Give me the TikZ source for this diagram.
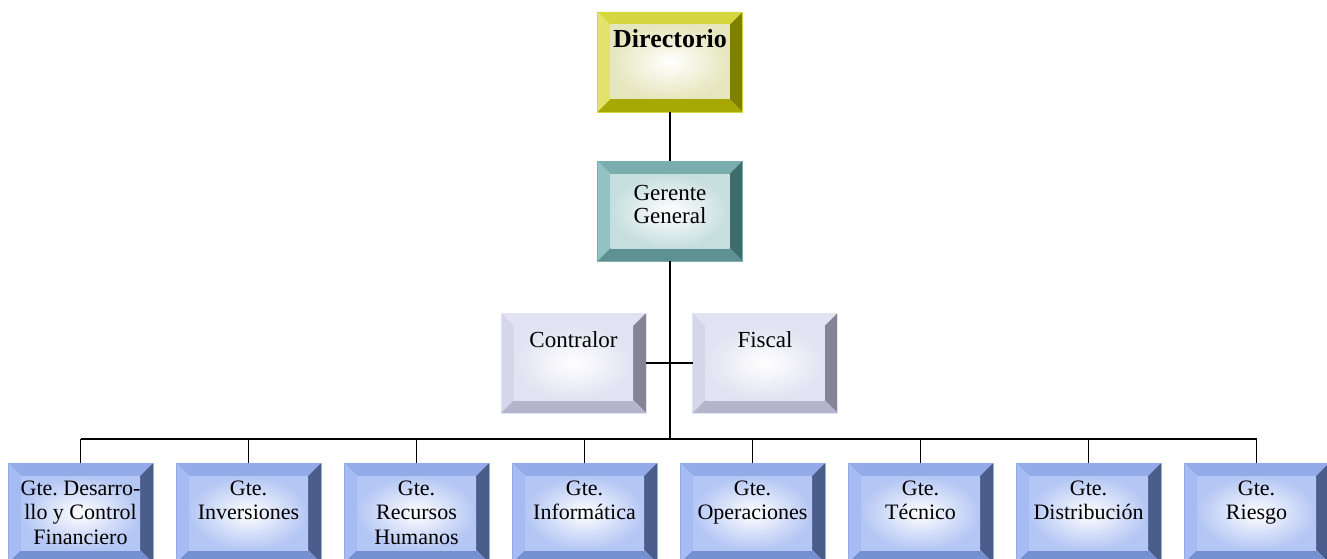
\documentclass[tikz,border=0pt]{standalone}
\usepackage{fontspec}
\setmainfont{Liberation Serif}
\usetikzlibrary{calc}
\frenchspacing

% bevel colours: top, left, right, bottom, inner tint
\definecolor{dirTop}{HTML}{D6D63E}
\definecolor{dirLeft}{HTML}{E2E26C}
\definecolor{dirRight}{HTML}{7F7F00}
\definecolor{dirBot}{HTML}{A8A802}
\definecolor{dirTint}{HTML}{E6E6BE}
\definecolor{gerTop}{HTML}{7AAEAE}
\definecolor{gerLeft}{HTML}{92C2C2}
\definecolor{gerRight}{HTML}{3E6C6C}
\definecolor{gerBot}{HTML}{5E9292}
\definecolor{gerTint}{HTML}{C6DEDE}
\definecolor{conTop}{HTML}{E2E2F2}
\definecolor{conLeft}{HTML}{D6D6EA}
\definecolor{conRight}{HTML}{848496}
\definecolor{conBot}{HTML}{B4B4CA}
\definecolor{conTint}{HTML}{E2E2F2}
\definecolor{gteTop}{HTML}{94ABEA}
\definecolor{gteLeft}{HTML}{A6BBF2}
\definecolor{gteRight}{HTML}{4C5C8C}
\definecolor{gteBot}{HTML}{7490D0}
\definecolor{gteTint}{HTML}{B4C6F4}

\newcommand\orgtext[2]{\parbox[c][100pt][t]{145pt}{\centering\rule{0pt}{#1}#2}}

\begin{document}
\begin{tikzpicture}[x=1pt, y=-1pt,
  bevel/.style n args={5}{rectangle, inner sep=0pt, outer sep=0pt,
    minimum width=145pt, minimum height=100pt, draw=#1, line width=0.5pt,
    path picture={
      \path (path picture bounding box.north west) coordinate (pnw)
            (path picture bounding box.south east) coordinate (pse);
      \fill[#1] (pnw) -- (pnw -| pse) -- ($(pnw -| pse)+(-13pt,-13pt)$)
        -- ($(pnw)+(13pt,-13pt)$) -- cycle;
      \fill[#2] (pnw) -- ($(pnw)+(13pt,-13pt)$) -- ($(pnw |- pse)+(13pt,13pt)$)
        -- (pnw |- pse) -- cycle;
      \fill[#3] (pnw -| pse) -- (pse) -- ($(pse)+(-13pt,13pt)$)
        -- ($(pnw -| pse)+(-13pt,-13pt)$) -- cycle;
      \fill[#4] (pnw |- pse) -- (pse) -- ($(pse)+(-13pt,13pt)$)
        -- ($(pnw |- pse)+(13pt,13pt)$) -- cycle;
      \shade[inner color=white, outer color=#5]
        ($(pnw)+(13pt,-13pt)$) rectangle ($(pse)+(-13pt,13pt)$);
    }},
  dirbox/.style={bevel={dirTop}{dirLeft}{dirRight}{dirBot}{dirTint},
    font=\fontsize{26}{30}\selectfont\bfseries},
  gerbox/.style={bevel={gerTop}{gerLeft}{gerRight}{gerBot}{gerTint},
    font=\fontsize{23}{23}\selectfont},
  conbox/.style={bevel={conTop}{conLeft}{conRight}{conBot}{conTint},
    font=\fontsize{23}{24}\selectfont},
  gtebox/.style={bevel={gteTop}{gteLeft}{gteRight}{gteBot}{gteTint},
    font=\fontsize{22}{24.5}\selectfont},
  link/.style={line width=1.6pt}]

  \useasboundingbox (0,0) rectangle (1327,559);
  \clip (0,0) rectangle (1327,559);

  \node[dirbox] (dir) at (670,62) {\orgtext{36pt}{Directorio}};
  \node[gerbox] (ger) at (670,211) {\orgtext{39pt}{Gerente\\General}};
  \node[conbox] (con) at (573.5,363) {\orgtext{34pt}{Contralor}};
  \node[conbox] (fis) at (765,363) {\orgtext{34pt}{Fiscal}};
  \coordinate (bus) at (670,439);

  \foreach \txt [count=\i] in {{Gte. Desarro-\\llo y Control\\Financiero},
      {Gte.\\Inversiones}, {Gte.\\Recursos\\Humanos}, {Gte.\\Informática},
      {Gte.\\Operaciones}, {Gte.\\Técnico}, {Gte.\\Distribución}, {Gte.\\Riesgo}}
    \node[gtebox] (g\i) at ({80.5+168*(\i-1)},513) {\orgtext{32pt}{\txt}};

  % connectors
  \draw[link] (dir.south) -- (ger.north);
  \draw[link] (con.east) -- (fis.west);
  \draw[link, line width=2.2pt] (ger.south) -- (bus);
  \draw[link] (bus -| g1.north) -- (bus -| g8.north);
  \draw[link, line width=2.4pt] (bus -| g2.north) -- (bus -| g7.north);
  \foreach \i in {1,...,8}
    \draw[link] (g\i.north) -- (bus -| g\i.north);
\end{tikzpicture}
\end{document}
